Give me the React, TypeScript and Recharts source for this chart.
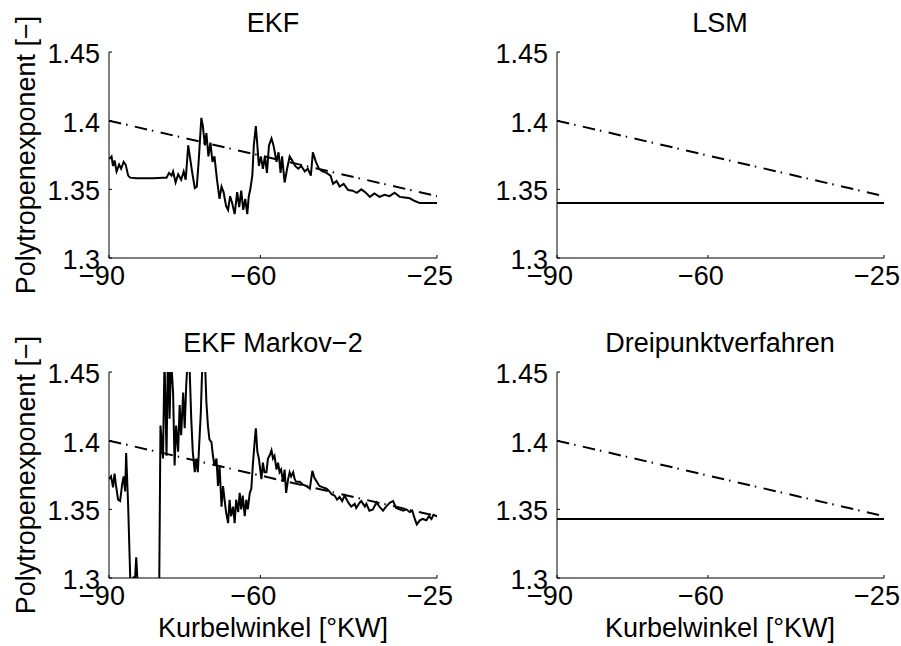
import React from 'react';
import { LineChart, Line, XAxis, YAxis } from 'recharts';

const FONT = '"Liberation Sans", Arial, Helvetica, sans-serif';
const FS = 27;

const xTicks = [-90, -60, -25];
const yTicks = [1.3, 1.35, 1.4, 1.45];
const xDomain = [-90, -25];
const yDomain = [1.3, 1.45];

// reference polytropic exponent (dash-dot), same in all four plots
const refAngle = [-90, -25];
const refValue = [1.4, 1.345];

// EKF estimate
const ekfAngle = [
  -90.0, -89.5, -89.2, -88.9, -88.5, -88.0, -87.6, -87.1, -86.7, -86.2,
  -85.8, -84.6, -83.3, -81.3, -79.3, -78.6, -78.1, -77.6, -77.3, -76.8,
  -76.3, -75.7, -75.2, -74.8, -74.3, -73.9, -73.5, -73.0, -72.6, -72.2,
  -71.7, -71.4, -71.0, -70.7, -70.3, -69.9, -69.5, -69.1, -68.6, -68.1,
  -67.7, -67.3, -66.8, -66.4, -66.0, -65.6, -65.1, -64.6, -64.2, -63.8,
  -63.4, -63.0, -62.6, -62.3, -62.0, -61.6, -61.3, -60.9, -60.6, -60.3,
  -59.9, -59.5, -59.1, -58.7, -58.3, -57.8, -57.4, -56.8, -56.4, -56.0,
  -55.7, -55.2, -54.7, -54.2, -53.7, -53.1, -52.5, -51.9, -51.2, -50.6,
  -50.0, -49.6, -49.0, -48.4, -47.7, -46.9, -46.1, -45.6, -44.9, -44.3,
  -43.5, -42.6, -41.7, -40.9, -40.0, -39.1, -38.3, -37.4, -36.4, -35.4,
  -34.4, -33.4, -32.4, -31.4, -30.4, -29.4, -28.4, -27.1, -25.8, -25.0,
];
const ekfValue = [
  1.372, 1.374, 1.367, 1.371, 1.363, 1.368, 1.365, 1.370, 1.368, 1.360,
  1.3585, 1.358, 1.358, 1.358, 1.3585, 1.3585, 1.362, 1.360, 1.363, 1.355,
  1.361, 1.357, 1.363, 1.357, 1.382, 1.372, 1.362, 1.351, 1.352, 1.372,
  1.402, 1.396, 1.382, 1.391, 1.374, 1.384, 1.370, 1.374, 1.357, 1.343,
  1.352, 1.348, 1.338, 1.335, 1.345, 1.340, 1.332, 1.348, 1.337, 1.349,
  1.335, 1.343, 1.332, 1.345, 1.350, 1.360, 1.382, 1.396, 1.382, 1.367,
  1.374, 1.365, 1.374, 1.362, 1.382, 1.387, 1.382, 1.370, 1.377, 1.362,
  1.374, 1.355, 1.365, 1.374, 1.371, 1.367, 1.365, 1.367, 1.363, 1.365,
  1.360, 1.377, 1.370, 1.365, 1.363, 1.362, 1.360, 1.354, 1.356, 1.352,
  1.354, 1.3495, 1.349, 1.3475, 1.350, 1.3475, 1.3445, 1.347, 1.3445, 1.346,
  1.345, 1.3475, 1.3445, 1.344, 1.3435, 1.3415, 1.340, 1.340, 1.340, 1.340,
];

// EKF Markov-2 estimate (leaves the axis range on both sides)
const markovAngle = [
  -90.0, -89.6, -89.2, -88.9, -88.6, -88.2, -87.8, -87.4, -87.1, -86.8,
  -86.6, -86.2, -85.8, -85.5, -85.1, -84.9, -84.6, -84.3, -83.9, -80.1,
  -79.8, -79.3, -79.0, -78.6, -78.3, -78.0, -77.7, -77.3, -77.0, -76.7,
  -76.3, -76.0, -75.7, -75.3, -75.0, -74.7, -74.4, -74.0, -73.7, -73.4,
  -73.0, -72.7, -72.4, -71.8, -71.6, -71.3, -71.0, -70.7, -70.4, -70.1,
  -69.7, -69.4, -69.1, -68.7, -68.4, -68.1, -67.7, -67.4, -67.1, -66.8,
  -66.4, -66.1, -65.8, -65.4, -65.1, -64.8, -64.4, -64.1, -63.8, -63.5,
  -63.1, -62.8, -62.5, -62.1, -61.8, -61.5, -61.1, -60.9, -60.6, -60.3,
  -59.8, -59.5, -59.2, -58.8, -58.5, -58.2, -57.8, -57.5, -57.2, -56.8,
  -56.5, -56.2, -55.9, -55.5, -55.2, -54.9, -54.5, -54.2, -53.9, -53.5,
  -53.2, -52.9, -52.2, -51.6, -50.9, -50.2, -49.7, -49.3, -48.8, -48.3,
  -47.6, -46.9, -46.3, -45.9, -45.3, -44.8, -44.3, -43.8, -43.3, -42.6,
  -42.0, -41.3, -41.0, -40.3, -40.0, -39.3, -39.0, -38.4, -37.7, -37.0,
  -36.4, -35.7, -35.1, -34.3, -33.7, -33.1, -32.4, -31.7, -31.1, -30.4,
  -29.9, -29.4, -29.0, -28.4, -27.8, -27.1, -26.6, -26.1, -25.7, -25.0,
];
const markovValue = [
  1.372, 1.374, 1.366, 1.376, 1.367, 1.357, 1.356, 1.368, 1.374, 1.363,
  1.391, 1.352, 1.301, 1.296, 1.301, 1.296, 1.315, 1.294, 1.27, 1.27,
  1.411, 1.387, 1.46, 1.389, 1.47, 1.416, 1.46, 1.435, 1.382, 1.411,
  1.392, 1.426, 1.404, 1.435, 1.409, 1.44, 1.46, 1.45, 1.416, 1.392,
  1.377, 1.387, 1.377, 1.421, 1.445, 1.47, 1.46, 1.428, 1.411, 1.401,
  1.399, 1.389, 1.382, 1.387, 1.367, 1.382, 1.352, 1.367, 1.357, 1.348,
  1.340, 1.357, 1.345, 1.352, 1.340, 1.357, 1.348, 1.362, 1.350, 1.360,
  1.345, 1.357, 1.350, 1.362, 1.365, 1.382, 1.401, 1.409, 1.392, 1.387,
  1.372, 1.384, 1.377, 1.377, 1.387, 1.389, 1.393, 1.387, 1.389, 1.379,
  1.384, 1.377, 1.379, 1.370, 1.379, 1.362, 1.372, 1.377, 1.374, 1.377,
  1.372, 1.370, 1.370, 1.368, 1.367, 1.365, 1.378, 1.373, 1.370, 1.367,
  1.366, 1.365, 1.363, 1.361, 1.360, 1.357, 1.359, 1.356, 1.360, 1.355,
  1.352, 1.354, 1.351, 1.355, 1.356, 1.352, 1.354, 1.349, 1.350, 1.355,
  1.352, 1.349, 1.352, 1.355, 1.356, 1.351, 1.350, 1.349, 1.350, 1.348,
  1.349, 1.343, 1.339, 1.342, 1.343, 1.342, 1.345, 1.343, 1.346, 1.345,
];

// constant estimates
const lsmAngle = [-90, -25];
const lsmValue = [1.34, 1.34];
const dreiAngle = [-90, -25];
const dreiValue = [1.343, 1.343];

const zip = (xs: number[], ys: number[]) =>
  xs.map((x, i) => ({ x, y: ys[i] })).filter((d) => d.y !== undefined);

const fmtX = (v: number) => (v < 0 ? '\u2212' + Math.abs(v) : String(v));

const BottomTick = ({ x, y, payload }: any) => (
  <g>
    <line x1={x} y1={y} x2={x} y2={y - 3} stroke="#000" strokeWidth={1} />
    <text x={x - 7} y={y + 27} textAnchor="middle" fontSize={FS} fontFamily={FONT} fill="#000">
      {fmtX(payload.value)}
    </text>
  </g>
);

const TopTick = ({ x, y }: any) => (
  <line x1={x} y1={y} x2={x} y2={y + 3} stroke="#000" strokeWidth={1} />
);

const LeftTick = ({ x, y, payload }: any) => (
  <g>
    <line x1={x} y1={y} x2={x + 3} y2={y} stroke="#000" strokeWidth={1} />
    <text x={x - 9} y={y + 11} textAnchor="end" fontSize={FS} fontFamily={FONT} fill="#000">
      {String(payload.value)}
    </text>
  </g>
);

const RightTick = ({ x, y }: any) => (
  <line x1={x} y1={y} x2={x - 3} y2={y} stroke="#000" strokeWidth={1} />
);

interface PanelProps {
  left: number;
  top: number;
  width: number;
  height: number;
  margin: { top: number; right: number; bottom: number; left: number };
  series: { x: number; y: number }[];
}

const Panel = ({ left, top, width, height, margin, series }: PanelProps) => (
  <div style={{ position: 'absolute', left, top, width, height }}>
    <LineChart width={width} height={height} margin={margin}>
      <XAxis
        xAxisId="b"
        dataKey="x"
        type="number"
        domain={xDomain}
        ticks={xTicks}
        interval={0}
        allowDataOverflow
        height={30}
        tickSize={0}
        tickMargin={0}
        tickLine={false}
        axisLine={{ stroke: '#000', strokeWidth: 1 }}
        tick={<BottomTick />}
      />
      <XAxis
        xAxisId="t"
        orientation="top"
        dataKey="x"
        type="number"
        domain={xDomain}
        ticks={xTicks}
        interval={0}
        allowDataOverflow
        height={0}
        tickSize={0}
        tickMargin={0}
        tickLine={false}
        axisLine={{ stroke: '#000', strokeWidth: 1 }}
        tick={<TopTick />}
      />
      <YAxis
        yAxisId="l"
        type="number"
        domain={yDomain}
        ticks={yTicks}
        interval={0}
        allowDataOverflow
        width={60}
        tickSize={0}
        tickMargin={0}
        tickLine={false}
        axisLine={{ stroke: '#000', strokeWidth: 1 }}
        tick={<LeftTick />}
      />
      <YAxis
        yAxisId="r"
        orientation="right"
        type="number"
        domain={yDomain}
        ticks={yTicks}
        interval={0}
        allowDataOverflow
        width={0}
        tickSize={0}
        tickMargin={0}
        tickLine={false}
        axisLine={{ stroke: '#000', strokeWidth: 1 }}
        tick={<RightTick />}
      />
      <Line
        xAxisId="b"
        yAxisId="l"
        data={zip(refAngle, refValue)}
        dataKey="y"
        type="linear"
        stroke="#000"
        strokeWidth={2}
        strokeDasharray="12.5 5 1.5 7.5"
        dot={false}
        activeDot={false}
        isAnimationActive={false}
      />
      <Line
        xAxisId="b"
        yAxisId="l"
        data={series}
        dataKey="y"
        type="linear"
        stroke="#000"
        strokeWidth={2}
        dot={false}
        activeDot={false}
        isAnimationActive={false}
      />
    </LineChart>
  </div>
);

const textStyle = { fontSize: FS, fontFamily: FONT, fill: '#000' };

export default function App() {
  // left panels are wider than their half so the "−25" label is not cut off
  const topMargin = { top: 52, right: 33, bottom: 32, left: 49 };
  const topMarginR = { top: 52, right: 17, bottom: 32, left: 47 };
  const botMargin = { top: 52, right: 33, bottom: 38, left: 49 };
  const botMarginR = { top: 52, right: 17, bottom: 38, left: 47 };

  return (
    <div style={{ position: 'absolute', left: 0, top: 0, width: 901, height: 646, background: '#fff' }}>
      <Panel left={0} top={0} width={470} height={320} margin={topMargin} series={zip(ekfAngle, ekfValue)} />
      <Panel left={450} top={0} width={451} height={320} margin={topMarginR} series={zip(lsmAngle, lsmValue)} />
      <Panel left={0} top={320} width={470} height={326} margin={botMargin} series={zip(markovAngle, markovValue)} />
      <Panel left={450} top={320} width={451} height={326} margin={botMarginR} series={zip(dreiAngle, dreiValue)} />

      <svg
        width={901}
        height={646}
        style={{ position: 'absolute', left: 0, top: 0, pointerEvents: 'none' }}
      >
        <text x={273} y={32} textAnchor="middle" style={textStyle}>EKF</text>
        <text x={720} y={32} textAnchor="middle" style={textStyle}>LSM</text>
        <text x={273} y={352} textAnchor="middle" style={textStyle}>EKF Markov−2</text>
        <text x={720} y={352} textAnchor="middle" style={textStyle}>Dreipunktverfahren</text>

        <text x={35} y={155} textAnchor="middle" transform="rotate(-90 35 155)" style={textStyle}>
          Polytropenexponent [−]
        </text>
        <text x={35} y={475} textAnchor="middle" transform="rotate(-90 35 475)" style={textStyle}>
          Polytropenexponent [−]
        </text>

        <text x={273} y={637} textAnchor="middle" style={textStyle}>Kurbelwinkel [°KW]</text>
        <text x={720} y={637} textAnchor="middle" style={textStyle}>Kurbelwinkel [°KW]</text>
      </svg>
    </div>
  );
}
